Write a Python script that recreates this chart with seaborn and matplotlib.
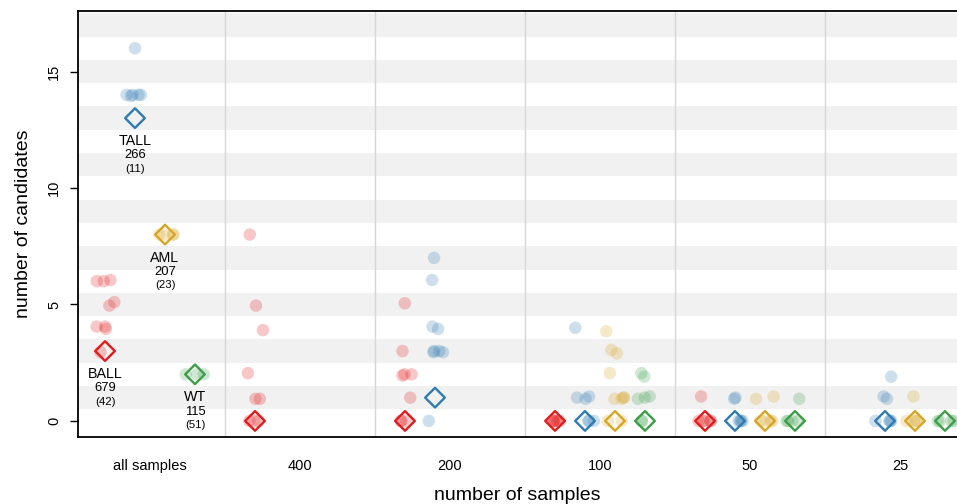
import matplotlib

matplotlib.use("Agg")

import matplotlib.pyplot as plt
import numpy as np
import pandas as pd
import seaborn as sns

sns.set_theme(style="ticks")
plt.rcParams["font.family"] = ["Liberation Sans", "DejaVu Sans"]
plt.rcParams["text.color"] = "black"
plt.rcParams["axes.labelcolor"] = "black"

groups = ["all samples", "400", "200", "100", "50", "25"]
subtypes = ["BALL", "TALL", "AML", "WT"]
subtype_sizes = [679, 266, 207, 115]
subtype_counts = [42, 11, 23, 51]
palette = ["#E41A1C", "#2F7BB2", "#D6A521", "#3C9E48"]

# candidates per subsampling run, one list per sample-size group
ball_runs = [
    [6.0, 6.05, 6.0, 4.95, 5.1, 3.95, 4.05, 4.05, 2.95],
    [8.0, 4.95, 3.9, 2.05, 0.95, 0.95, 0.0, 0.0, 0.0],
    [5.05, 3.0, 2.0, 1.95, 2.0, 1.0, 0.0, 0.0, 0.0],
    [0.0, 0.0, 0.0, 0.0, 0.0, 0.0],
    [1.05, 0.0, 0.0, 0.0, 0.0, 0.0],
    [],
]
tall_runs = [
    [16.0, 14.0, 14.0, 14.0, 14.0, 13.95],
    [],
    [7.0, 6.05, 3.95, 4.05, 3.0, 3.0, 2.95, 2.95, 0.0],
    [4.0, 1.0, 1.05, 0.95, 0.0, 0.0, 0.0],
    [1.0, 0.95, 0.0, 0.0, 0.0, 0.0],
    [1.9, 1.05, 0.95, 0.0, 0.0, 0.0, 0.0],
]
aml_runs = [
    [8.0, 8.0, 8.0, 8.0],
    [],
    [],
    [3.85, 3.05, 2.9, 2.05, 1.0, 1.0, 0.95, 0.95, 0.0, 0.0],
    [1.05, 0.95, 0.0, 0.0, 0.0, 0.0],
    [1.05, 0.0, 0.0, 0.0, 0.0],
]
wt_runs = [
    [2.0, 2.0, 2.0],
    [],
    [],
    [2.05, 1.9, 1.05, 1.0, 0.95, 0.0, 0.0],
    [0.95, 0.0, 0.0, 0.0, 0.0],
    [0.0, 0.0, 0.0, 0.0],
]

# highlighted value (diamond) per group, None where the group is absent
ball_best = [3, 0, 0, 0, 0, None]
tall_best = [13, None, 1, 0, 0, 0]
aml_best = [8, None, None, 0, 0, 0]
wt_best = [2, None, None, 0, 0, 0]

run_rows = []
best_rows = []
for sub, runs, best in zip(
    subtypes,
    [ball_runs, tall_runs, aml_runs, wt_runs],
    [ball_best, tall_best, aml_best, wt_best],
):
    for group, values, value in zip(groups, runs, best):
        run_rows += [(group, sub, v) for v in values]
        if value is not None:
            best_rows.append((group, sub, value))

runs_df = pd.DataFrame(run_rows, columns=["samples", "subtype", "candidates"])
best_df = pd.DataFrame(best_rows, columns=["samples", "subtype", "candidates"])

fig = plt.figure(figsize=(9.57, 5.04), dpi=100)
ax = fig.add_axes([78 / 957, 1 - 437 / 504, 1 - 78 / 957, 426 / 504])

for k in range(0, 18, 2):
    ax.axhspan(k + 0.5, k + 1.5, color="#F1F1F1", lw=0, zorder=0)
for boundary in np.arange(0.5, len(groups) - 0.5, 1):
    ax.axvline(boundary, color="#D6D6D6", lw=1, zorder=0.5)

np.random.seed(7)
sns.stripplot(
    data=runs_df, x="samples", y="candidates", hue="subtype",
    order=groups, hue_order=subtypes, palette=palette,
    dodge=True, jitter=0.26, size=9, alpha=0.24, linewidth=0,
    legend=False, ax=ax, zorder=2,
)

n_before = len(ax.collections)
sns.stripplot(
    data=best_df, x="samples", y="candidates", hue="subtype",
    order=groups, hue_order=subtypes, palette=palette,
    dodge=True, jitter=False, size=10, marker="D", linewidth=1.7,
    legend=False, ax=ax, zorder=3,
)
for coll in ax.collections[n_before:]:
    face = coll.get_facecolor()
    coll.set_edgecolor(face)
    coll.set_facecolor("none")
    coll.set_linewidth(1.7)

# labels under the "all samples" diamonds
for i, sub in enumerate(subtypes):
    x = -0.3 + 0.2 * i
    y = [ball_best, tall_best, aml_best, wt_best][i][0]
    ax.annotate(sub, (x, y), xytext=(0, -16.5), textcoords="offset points",
                ha="center", va="center", fontsize=10.3)
    ax.annotate(str(subtype_sizes[i]), (x, y), xytext=(0, -26.8), textcoords="offset points",
                ha="center", va="center", fontsize=9.4)
    ax.annotate(f"({subtype_counts[i]})", (x, y), xytext=(0, -36.5), textcoords="offset points",
                ha="center", va="center", fontsize=8.2)

ax.set_xlim(-0.48, 5.38)
ax.set_ylim(-0.69, 17.6)
ax.set_yticks([0, 5, 10, 15])
ax.tick_params(axis="y", labelrotation=90, length=6, width=1, pad=6, labelsize=10.5,
               colors="black")
ax.tick_params(axis="x", length=0, pad=16, labelsize=10.5, colors="black")
for label in ax.get_yticklabels():
    label.set_verticalalignment("center")

for side in ["left", "bottom", "top"]:
    ax.spines[side].set_color("black")
    ax.spines[side].set_linewidth(1.3)
ax.spines["right"].set_visible(False)

ax.set_xlabel("number of samples", fontsize=14, labelpad=10)
ax.set_ylabel("number of candidates", fontsize=14, labelpad=11)

fig.savefig("out.png", dpi=100)
plt.close(fig)
